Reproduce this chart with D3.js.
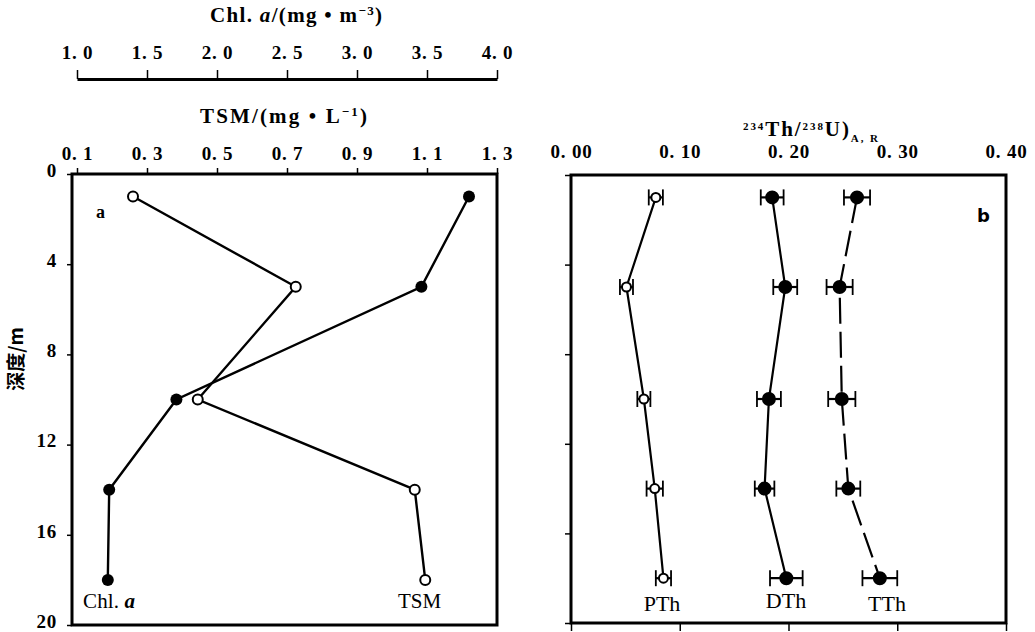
<!DOCTYPE html>
<html><head><meta charset="utf-8">
<script src="https://cdn.jsdelivr.net/npm/d3@7"></script>
<style>body{margin:0;background:#fff}svg{display:block}</style></head>
<body><svg id="c" width="1035" height="632"></svg>
<script>
// ---- data ----
const depths = [1, 5, 10, 14, 18];
const tsm = [0.26, 0.725, 0.445, 1.065, 1.095];
const chla = [3.80, 3.46, 1.71, 1.23, 1.22];
const pth = [0.078, 0.051, 0.067, 0.077, 0.085];
const pthErr = [0.0065, 0.006, 0.006, 0.0075, 0.007];
const dth = [0.185, 0.197, 0.182, 0.178, 0.198];
const dthErr = [0.0105, 0.011, 0.011, 0.009, 0.015];
const tth = [0.263, 0.247, 0.249, 0.255, 0.284];
const tthErr = [0.012, 0.012, 0.0125, 0.011, 0.016];
const tsmTicks = [0.1, 0.3, 0.5, 0.7, 0.9, 1.1, 1.3];
const chlTicks = [1.0, 1.5, 2.0, 2.5, 3.0, 3.5, 4.0];
const depthTicks = [0, 4, 8, 12, 16, 20];
const ratioTicks = [0, 0.1, 0.2, 0.3, 0.4];

const svg = d3.select('#c');
const SERIF = '"Liberation Serif","DejaVu Serif",serif';
const fmt = p => d => d3.format('.' + p + 'f')(d).replace('.', '. ');

// ---- scales ----
const xTSM = d3.scaleLinear([0.1, 1.3], [77, 497]);
const xChl = d3.scaleLinear([1, 4], [77, 497]);
const yA = d3.scaleLinear([0, 20], [174, 625]);
const xR = d3.scaleLinear([0, 0.4], [571, 1006]);
const yB = d3.scaleLinear([0, 20], [175, 623]);

function styleAxis(g, fs) {
  g.selectAll('text').attr('font-family', SERIF).attr('font-size', fs)
    .attr('font-weight', 'bold').attr('fill', '#000').attr('letter-spacing', 0.8);
  g.selectAll('line').attr('stroke', '#000').attr('stroke-width', 1.5);
}

// ================= Panel a =================
const gChl = svg.append('g').attr('transform', 'translate(0,79)')
  .call(d3.axisTop(xChl).tickValues(chlTicks).tickFormat(fmt(1)).tickSize(9).tickSizeOuter(0).tickPadding(11));
styleAxis(gChl, 19);
gChl.select('.domain').attr('stroke', '#000').attr('stroke-width', 3);

const gTSM = svg.append('g').attr('transform', 'translate(0,174)')
  .call(d3.axisTop(xTSM).tickValues(tsmTicks).tickFormat(fmt(1)).tickSize(6).tickSizeOuter(0).tickPadding(8));
styleAxis(gTSM, 19);
gTSM.select('.domain').remove();

const gYA = svg.append('g').attr('transform', 'translate(72,0)')
  .call(d3.axisLeft(yA).tickValues(depthTicks).tickSize(5).tickSizeOuter(0).tickPadding(10));
styleAxis(gYA, 19);
gYA.selectAll('text').attr('dy', '0.12em');
gYA.select('.domain').remove();

svg.append('rect').attr('x', 72).attr('y', yA(0)).attr('width', xTSM(1.3) - 72)
  .attr('height', yA(20) - yA(0)).attr('fill', 'none').attr('stroke', '#000').attr('stroke-width', 3);

// titles
svg.append('text').attr('x', 210).attr('y', 22)
  .attr('textLength', 172).attr('lengthAdjust', 'spacing')
  .attr('font-family', SERIF).attr('font-size', 21).attr('font-weight', 'bold')
  .call(t => {
    t.append('tspan').text('Chl. ');
    t.append('tspan').attr('font-style', 'italic').text('a');
    t.append('tspan').text('/(mg • m');
    t.append('tspan').attr('baseline-shift', 'super').attr('font-size', 13).text('−3');
    t.append('tspan').text(')');
  });
svg.append('text').attr('x', 200).attr('y', 123)
  .attr('textLength', 167).attr('lengthAdjust', 'spacing')
  .attr('font-family', SERIF).attr('font-size', 21).attr('font-weight', 'bold')
  .call(t => {
    t.append('tspan').text('TSM/(mg • L');
    t.append('tspan').attr('baseline-shift', 'super').attr('font-size', 13).text('−1');
    t.append('tspan').text(')');
  });
svg.append('text').attr('transform', 'translate(23,359) rotate(-90)').attr('text-anchor', 'middle')
  .attr('font-family', '"Noto Sans CJK SC",' + SERIF).attr('font-size', 19).attr('font-weight', 'bold')
  .text('深度/m');

const lineTSM = d3.line().x(d => xTSM(d)).y((d, i) => yA(depths[i]));
const lineChl = d3.line().x(d => xChl(d)).y((d, i) => yA(depths[i]));
svg.append('path').attr('d', lineTSM(tsm)).attr('fill', 'none').attr('stroke', '#000').attr('stroke-width', 2.4);
svg.append('path').attr('d', lineChl(chla)).attr('fill', 'none').attr('stroke', '#000').attr('stroke-width', 2.4);
svg.selectAll('.ptsm').data(tsm).join('circle').attr('cx', d => xTSM(d)).attr('cy', (d, i) => yA(depths[i]))
  .attr('r', 5).attr('fill', '#fff').attr('stroke', '#000').attr('stroke-width', 2);
svg.selectAll('.pchl').data(chla).join('circle').attr('cx', d => xChl(d)).attr('cy', (d, i) => yA(depths[i]))
  .attr('r', 6).attr('fill', '#000');

svg.append('text').attr('x', 96).attr('y', 218).attr('font-family', SERIF).attr('font-size', 18).attr('font-weight', 'bold').text('a');
svg.append('text').attr('x', 83).attr('y', 608).attr('textLength', 52).attr('lengthAdjust', 'spacing')
  .attr('font-family', SERIF).attr('font-size', 21)
  .call(t => { t.append('tspan').text('Chl. '); t.append('tspan').attr('font-style', 'italic').attr('font-weight', 'bold').text('a'); });
svg.append('text').attr('x', 398).attr('y', 608).attr('font-family', SERIF).attr('font-size', 21).text('TSM');

// ================= Panel b =================
const gRT = svg.append('g').attr('transform', 'translate(0,175)')
  .call(d3.axisTop(xR).tickValues(ratioTicks).tickFormat(fmt(2)).tickSize(0).tickPadding(17));
styleAxis(gRT, 19);
gRT.select('.domain').remove();

const gRB = svg.append('g').attr('transform', 'translate(0,' + yB(20) + ')')
  .call(d3.axisBottom(xR).tickValues(ratioTicks).tickFormat('').tickSize(8).tickSizeOuter(0));
styleAxis(gRB, 19);
gRB.select('.domain').remove();

const gYB = svg.append('g').attr('transform', 'translate(571,0)')
  .call(d3.axisLeft(yB).tickValues(depthTicks).tickFormat('').tickSize(6).tickSizeOuter(0));
styleAxis(gYB, 19);
gYB.select('.domain').remove();

svg.append('rect').attr('x', xR(0)).attr('y', yB(0)).attr('width', xR(0.4) - xR(0))
  .attr('height', yB(20) - yB(0)).attr('fill', 'none').attr('stroke', '#000').attr('stroke-width', 3);

svg.append('text').attr('x', 743).attr('y', 136)
  .attr('textLength', 135).attr('lengthAdjust', 'spacing')
  .attr('font-family', SERIF).attr('font-size', 21).attr('font-weight', 'bold')
  .call(t => {
    t.append('tspan').attr('baseline-shift', 'super').attr('font-size', 11).text('234');
    t.append('tspan').text('Th/');
    t.append('tspan').attr('baseline-shift', 'super').attr('font-size', 11).text('238');
    t.append('tspan').text('U)');
    t.append('tspan').attr('baseline-shift', 'sub').attr('font-size', 11).text('A, R');
  });

const seriesB = [
  { v: pth, e: pthErr, open: true, dash: null, r: 4.5 },
  { v: dth, e: dthErr, open: false, dash: null, r: 6 },
  { v: tth, e: tthErr, open: false, dash: '26,8', r: 6 }
];
const lineB = d3.line().x(d => xR(d)).y((d, i) => yB(depths[i]));
seriesB.forEach(s => {
  svg.append('path').attr('d', lineB(s.v)).attr('fill', 'none').attr('stroke', '#000')
    .attr('stroke-width', 2.2).attr('stroke-dasharray', s.dash);
  const g = svg.append('g');
  s.v.forEach((v, i) => {
    const y = yB(depths[i]), x0 = xR(v - s.e[i]), x1 = xR(v + s.e[i]);
    g.append('line').attr('x1', x0).attr('x2', x1).attr('y1', y).attr('y2', y).attr('stroke', '#000').attr('stroke-width', 2.2);
    [x0, x1].forEach(x => g.append('line').attr('x1', x).attr('x2', x).attr('y1', y - 8).attr('y2', y + 8)
      .attr('stroke', '#000').attr('stroke-width', 1.8));
    g.append('circle').attr('cx', xR(v)).attr('cy', y).attr('r', s.r)
      .attr('fill', s.open ? '#fff' : '#000').attr('stroke', '#000').attr('stroke-width', 2);
  });
});

svg.append('text').attr('x', 662).attr('y', 611).attr('text-anchor', 'middle').attr('font-family', SERIF).attr('font-size', 22).text('PTh');
svg.append('text').attr('x', 786).attr('y', 608).attr('text-anchor', 'middle').attr('font-family', SERIF).attr('font-size', 22).text('DTh');
svg.append('text').attr('x', 887).attr('y', 611).attr('text-anchor', 'middle').attr('font-family', SERIF).attr('font-size', 22).text('TTh');
svg.append('text').attr('x', 977).attr('y', 222).attr('font-family', '"DejaVu Sans",sans-serif').attr('font-size', 18).attr('font-weight', 'bold').text('b');
</script></body></html>
